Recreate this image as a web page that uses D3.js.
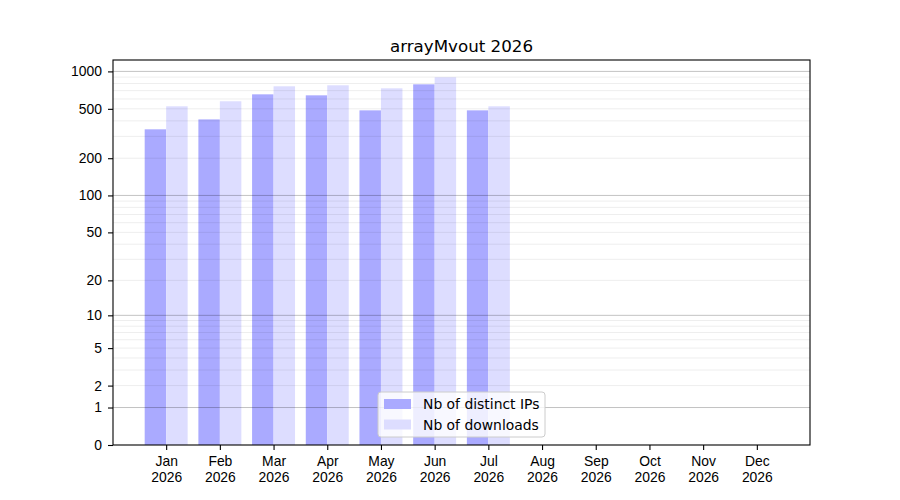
<!DOCTYPE html>
<html>
<head>
<meta charset="utf-8">
<script src="https://cdn.jsdelivr.net/npm/d3@7"></script>
<style>
body { margin: 0; background: #fff; }
svg { font-family: "DejaVu Sans", sans-serif; }
</style>
</head>
<body>
<div class="chart"></div>
<script>
var months = ['Jan', 'Feb', 'Mar', 'Apr', 'May', 'Jun', 'Jul', 'Aug', 'Sep', 'Oct', 'Nov', 'Dec'];
var year = '2026';
var distinct_ips = [342, 411, 654, 642, 486, 787, 486];
var downloads = [524, 575, 759, 773, 731, 897, 524];
var y_ticks = [0, 1, 2, 5, 10, 20, 50, 100, 200, 500, 1000];
var major_grid = [1, 10, 100, 1000];
var minor_grid = [2, 3, 4, 5, 6, 7, 8, 9, 20, 30, 40, 50, 60, 70, 80, 90,
	200, 300, 400, 500, 600, 700, 800, 900];

var width = 900;
var height = 500;
var left = 113, right = 810, top_y = 60, bottom = 445;

var chart_svg = d3.select(".chart")
	.append("svg")
	.attr("width", width)
	.attr("height", height);

var x = d3.scaleLinear().domain([-0.99, months.length - 1 + 0.99]).range([left, right]);
var y = d3.scaleSymlog().constant(1).domain([0, 1235]).range([bottom, top_y]);

// bars
chart_svg.append("g").selectAll("rect")
	.data(distinct_ips)
	.enter()
	.append("rect")
	.attr("x", function(d, i) { return x(i - 0.4); })
	.attr("width", function(d, i) { return x(i) - x(i - 0.4); })
	.attr("y", function(d) { return y(d); })
	.attr("height", function(d) { return y(0) - y(d); })
	.style("fill", "#aaaaff");

chart_svg.append("g").selectAll("rect")
	.data(downloads)
	.enter()
	.append("rect")
	.attr("x", function(d, i) { return x(i); })
	.attr("width", function(d, i) { return x(i + 0.4) - x(i); })
	.attr("y", function(d) { return y(d); })
	.attr("height", function(d) { return y(0) - y(d); })
	.style("fill", "#ddddff");

// grid on top of bars, as matplotlib does
chart_svg.append("g").selectAll("line")
	.data(minor_grid)
	.enter()
	.append("line")
	.attr("x1", left).attr("x2", right)
	.attr("y1", function(d) { return y(d); })
	.attr("y2", function(d) { return y(d); })
	.attr("stroke", "black")
	.attr("stroke-opacity", 0.07)
	.attr("stroke-width", 1);

chart_svg.append("g").selectAll("line")
	.data(major_grid)
	.enter()
	.append("line")
	.attr("x1", left).attr("x2", right)
	.attr("y1", function(d) { return y(d); })
	.attr("y2", function(d) { return y(d); })
	.attr("stroke", "black")
	.attr("stroke-opacity", 0.24)
	.attr("stroke-width", 1);

// axes
var y_axis = d3.axisLeft(y)
	.tickValues(y_ticks)
	.tickFormat(d3.format("d"))
	.tickSize(5)
	.tickPadding(6);
var gy = chart_svg.append("g")
	.attr("transform", "translate(" + left + ",0)")
	.call(y_axis);
gy.select(".domain").remove();
gy.selectAll("text").style("font-size", "13.9px").attr("fill", "black");
gy.selectAll("line").attr("stroke-width", 1.1);

var x_axis = d3.axisBottom(x)
	.tickValues(d3.range(months.length))
	.tickFormat(function(d) { return months[d]; })
	.tickSize(5)
	.tickPadding(3.5);
var gx = chart_svg.append("g")
	.attr("transform", "translate(0," + bottom + ")")
	.call(x_axis);
gx.select(".domain").remove();
gx.selectAll("line").attr("stroke-width", 1.1);
gx.selectAll("text")
	.style("font-size", "13.9px")
	.attr("fill", "black")
	.attr("dy", null)
	.each(function() {
		var t = d3.select(this);
		var m = t.text();
		t.text(null);
		t.append("tspan").attr("x", 0).attr("dy", "12.5px").text(m);
		t.append("tspan").attr("x", 0).attr("dy", "15.8px").text(year);
	});

// frame
chart_svg.append("rect")
	.attr("x", left)
	.attr("y", top_y)
	.attr("width", right - left)
	.attr("height", bottom - top_y)
	.style("fill", "none")
	.style("stroke", "black")
	.style("stroke-width", 1.1);

// title
chart_svg.append("text")
	.attr("x", (left + right) / 2)
	.attr("y", 52)
	.attr("text-anchor", "middle")
	.style("font-size", "16.7px")
	.text("arrayMvout " + year);

// legend
var legend_items = [
	{ label: 'Nb of distinct IPs', color: '#aaaaff' },
	{ label: 'Nb of downloads', color: '#ddddff' }
];
var legend = chart_svg.append("g").attr("transform", "translate(378,392)");
legend.append("rect")
	.attr("width", 167)
	.attr("height", 45)
	.attr("rx", 3)
	.style("fill", "white")
	.style("fill-opacity", 0.8)
	.style("stroke", "#cccccc")
	.style("stroke-width", 1);
legend.selectAll(".item")
	.data(legend_items)
	.enter()
	.append("rect")
	.attr("x", 6)
	.attr("y", function(d, i) { return 7 + i * 20.5; })
	.attr("width", 27)
	.attr("height", 10)
	.style("fill", function(d) { return d.color; });
legend.selectAll("text")
	.data(legend_items)
	.enter()
	.append("text")
	.attr("x", 45)
	.attr("y", function(d, i) { return 17 + i * 20.5; })
	.style("font-size", "13.9px")
	.text(function(d) { return d.label; });
</script>
</body>
</html>
